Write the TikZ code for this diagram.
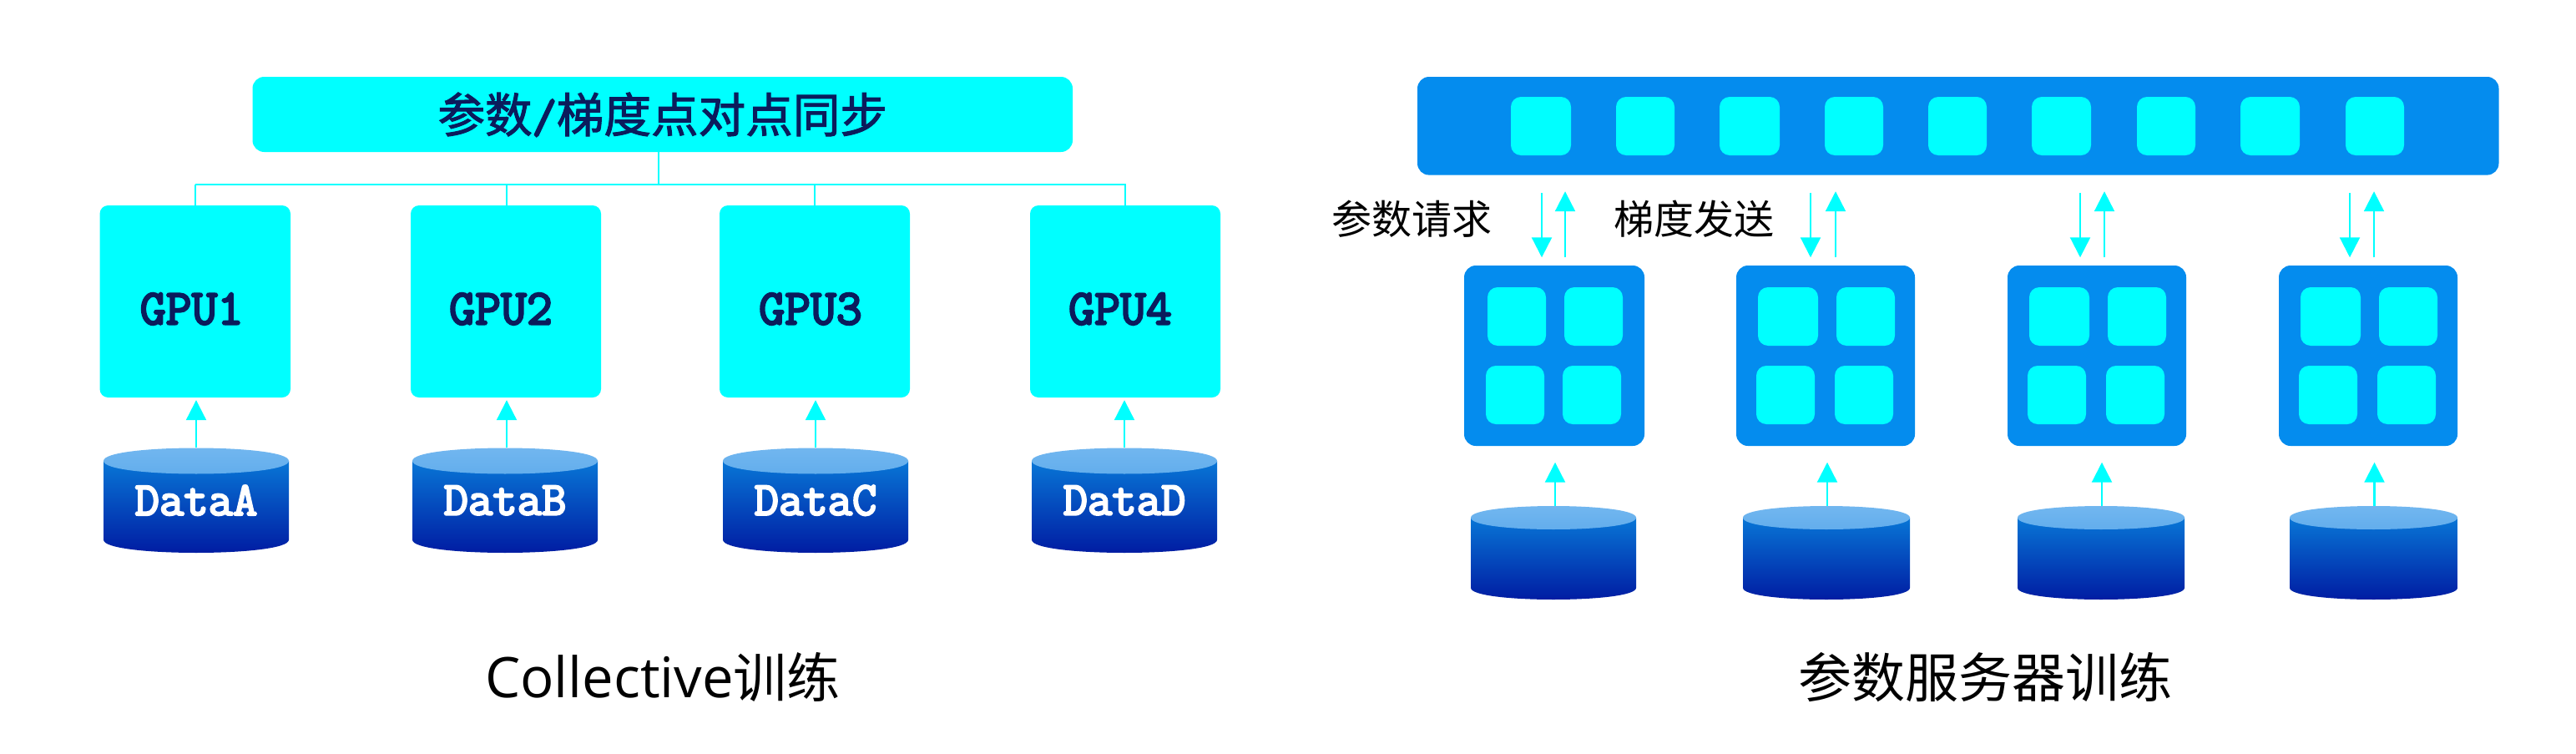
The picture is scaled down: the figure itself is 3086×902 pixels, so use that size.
\documentclass[tikz,border=0pt]{standalone}
\usepackage{fontspec}
\newfontfamily\cjk{Noto Sans CJK SC}
\newfontfamily\cjkheavy[FakeBold=1.8]{Noto Sans CJK SC}
\newfontfamily\capfont{Open Sans}
\newfontfamily\monoheavy[FakeBold=4]{Latin Modern Mono}
\usetikzlibrary{arrows.meta}
\definecolor{cyanbox}{RGB}{0,255,255}
\definecolor{bluebox}{RGB}{4,140,238}
\definecolor{navytxt}{RGB}{11,28,92}
\definecolor{cylhi}{RGB}{8,118,214}
\definecolor{cyllo}{RGB}{0,24,160}
\definecolor{captop}{RGB}{116,184,240}
\definecolor{capbot}{RGB}{96,172,236}
\tikzset{
  x=1pt,y=-1pt,
  cyanrect/.style={fill=cyanbox,rounded corners=10pt},
  bluerect/.style={fill=bluebox,rounded corners=14pt},
  chip/.style={fill=cyanbox,rounded corners=12pt},
  wire/.style={draw=cyanbox,line width=2.2pt},
  flow/.style={wire,-{Triangle[length=24pt,width=24pt]}},
  gputxt/.style={text=navytxt,font=\monoheavy\fontsize{60}{62}\selectfont},
  datatxt/.style={text=white,font=\monoheavy\fontsize{57}{60}\selectfont},
  cnlabel/.style={text=black,font=\cjk\fontsize{48}{52}\selectfont},
  captxt/.style={text=black,font=\capfont\fontsize{67}{70}\selectfont},
}
% name, x1, y1, x2, y2, style, text
\newcommand{\bx}[7]{%
  \path[#6] (#2,#3) rectangle (#4,#5);
  \path (#2,#3) -- (#4,#5) coordinate[pos=.5] (#1c);
  \node[inner sep=0pt,minimum width={(#4-#2)*1pt},minimum height={(#5-#3)*1pt},#6,fill=none] (#1) at (#1c) {#7};}
% name, x1, ytop, x2, ybot, ry, text
\newcommand{\cyl}[7]{%
  \shade[top color=cylhi,bottom color=cyllo]
    (#2,#3+#6) -- (#2,#5-#6) .. controls (#2,#5+#6*.333) and (#4,#5+#6*.333) .. (#4,#5-#6)
    -- (#4,#3+#6) -- cycle;
  \shade[top color=captop,bottom color=capbot]
    (#2,#3+#6) .. controls (#2,#3-#6*.333) and (#4,#3-#6*.333) .. (#4,#3+#6)
    .. controls (#4,#3+#6*2.333) and (#2,#3+#6*2.333) .. (#2,#3+#6) -- cycle;
  \path (#2,#3) -- (#4,#5) coordinate[pos=.5] (#1c);
  \node[inner sep=0pt,minimum width={(#4-#2)*1pt},minimum height={(#5-#3)*1pt},datatxt] (#1) at (#1c) {\raisebox{-8pt}{#7}};}
\begin{document}
\begin{tikzpicture}
\useasboundingbox (0,0) rectangle (3086,902);
\fill[white] (0,0) rectangle (3086,902);
% left: sync bar
\bx{sync}{302.5}{92}{1285}{182}{cyanrect,rounded corners=14pt}{\cjkheavy\fontsize{56.6}{60}\selectfont\textcolor{navytxt}{参数{\monoheavy /}梯度点对点同步}}
\bx{gpuA}{119.5}{246}{348}{476}{cyanrect}{}
\bx{gpuB}{492}{246}{720}{476}{cyanrect}{}
\bx{gpuC}{862}{246}{1090}{476}{cyanrect}{}
\bx{gpuD}{1234}{246}{1462}{476}{cyanrect}{}
\node[gputxt] (gpuAt) at (229.6,370) {GPU1};
\node[gputxt] (gpuBt) at (600,370) {GPU2};
\node[gputxt] (gpuCt) at (971,370) {GPU3};
\node[gputxt] (gpuDt) at (1342,370) {GPU4};
\cyl{dataA}{124}{536.5}{346}{662}{15.5}{DataA}
\cyl{dataB}{494}{536.5}{716}{662}{15.5}{DataB}
\cyl{dataC}{866}{536.5}{1088}{662}{15.5}{DataC}
\cyl{dataD}{1236}{536.5}{1458}{662}{15.5}{DataD}
\coordinate (busW) at (234,220.6);
\coordinate (busE) at (1349,220.6);
\coordinate (busT) at (789,220.6);
\coordinate (dropB) at (607,0);
\draw[wire] (busW) -- (busE);
\draw[wire] (sync.south -| busT) -- (busT);
\draw[wire] (gpuA.north) -- (gpuA.north |- busW);
\draw[wire] (gpuB.north -| dropB) -- (dropB |- busW);
\draw[wire] (gpuC.north) -- (gpuC.north |- busW);
\draw[wire] (gpuD.north) -- (gpuD.north |- busW);
\draw[flow,shorten >=3pt] (dataA.north) -- (dataA.north |- gpuA.south);
\draw[flow,shorten >=3pt] (dataB.north -| dropB) -- (dropB |- gpuB.south);
\draw[flow,shorten >=3pt] (dataC.north) -- (dataC.north |- gpuC.south);
\draw[flow,shorten >=3pt] (dataD.north) -- (dataD.north |- gpuD.south);
% right: parameter server bar
\bx{ps}{1698}{92}{2993.5}{209.6}{bluerect}{}
\bx{psa}{1810}{116}{1882}{186}{chip}{}
\bx{psb}{1936}{116}{2006}{186}{chip}{}
\bx{psc}{2060}{116}{2132}{186}{chip}{}
\bx{psd}{2186}{116}{2256}{186}{chip}{}
\bx{pse}{2310}{116}{2380}{186}{chip}{}
\bx{psf}{2434}{116}{2505}{186}{chip}{}
\bx{psg}{2560}{116}{2630}{186}{chip}{}
\bx{psh}{2684}{116}{2755}{186}{chip}{}
\bx{psi}{2810}{116}{2880}{186}{chip}{}
% workers
\bx{w1}{1754}{318}{1970}{534}{bluerect}{}
\bx{w1a}{1782}{344}{1852}{414}{chip}{}
\bx{w1b}{1874}{344}{1944}{414}{chip}{}
\bx{w1c}{1780}{438}{1850}{508}{chip}{}
\bx{w1d}{1872}{438}{1942}{508}{chip}{}
\bx{w2}{2080}{318}{2294}{534}{bluerect}{}
\bx{w2a}{2106}{344}{2178}{414}{chip}{}
\bx{w2b}{2200}{344}{2270}{414}{chip}{}
\bx{w2c}{2104}{438}{2174}{508}{chip}{}
\bx{w2d}{2198}{438}{2268}{508}{chip}{}
\bx{w3}{2405}{318}{2619}{534}{bluerect}{}
\bx{w3a}{2431}{344}{2503}{414}{chip}{}
\bx{w3b}{2525}{344}{2595}{414}{chip}{}
\bx{w3c}{2429}{438}{2499}{508}{chip}{}
\bx{w3d}{2523}{438}{2593}{508}{chip}{}
\bx{w4}{2730}{318}{2944}{534}{bluerect}{}
\bx{w4a}{2756}{344}{2828}{414}{chip}{}
\bx{w4b}{2850}{344}{2920}{414}{chip}{}
\bx{w4c}{2754}{438}{2824}{508}{chip}{}
\bx{w4d}{2848}{438}{2918}{508}{chip}{}
% disks
\cyl{d1}{1762}{606}{1960}{718}{14}{}
\cyl{d2}{2088}{606}{2288}{718}{14}{}
\cyl{d3}{2417}{606}{2617}{718}{14}{}
\cyl{d4}{2743}{606}{2944}{718}{14}{}
\draw[flow,shorten >=19.5pt] ([xshift=2pt]d1.north) -- ([xshift=2pt]d1.north |- w1.south);
\draw[flow,shorten >=19.5pt] ([xshift=1pt]d2.north) -- ([xshift=1pt]d2.north |- w2.south);
\draw[flow,shorten >=19.5pt] ([xshift=1pt]d3.north) -- ([xshift=1pt]d3.north |- w3.south);
\draw[flow,shorten >=19.5pt] ([xshift=1pt]d4.north) -- ([xshift=1pt]d4.north |- w4.south);
% request / send arrows
\coordinate (r1) at (1847,0); \coordinate (s1) at (1875,0);
\coordinate (r2) at (2169,0); \coordinate (s2) at (2199,0);
\coordinate (r3) at (2492,0); \coordinate (s3) at (2521,0);
\coordinate (r4) at (2815,0); \coordinate (s4) at (2844,0);
\draw[flow,shorten <=21.4pt,shorten >=9.5pt] (ps.south -| r1) -- (w1.north -| r1);
\draw[flow,shorten <=9.5pt,shorten >=19.4pt] (w1.north -| s1) -- (ps.south -| s1);
\draw[flow,shorten <=21.4pt,shorten >=9.5pt] (ps.south -| r2) -- (w2.north -| r2);
\draw[flow,shorten <=9.5pt,shorten >=19.4pt] (w2.north -| s2) -- (ps.south -| s2);
\draw[flow,shorten <=21.4pt,shorten >=9.5pt] (ps.south -| r3) -- (w3.north -| r3);
\draw[flow,shorten <=9.5pt,shorten >=19.4pt] (w3.north -| s3) -- (ps.south -| s3);
\draw[flow,shorten <=21.4pt,shorten >=9.5pt] (ps.south -| r4) -- (w4.north -| r4);
\draw[flow,shorten <=9.5pt,shorten >=19.4pt] (w4.north -| s4) -- (ps.south -| s4);
% labels
\node[cnlabel] (lreq) at (1691,262) {参数请求};
\node[cnlabel] (lgrad) at (2029,262) {梯度发送};
\node[captxt] (capL) at (794,811) {Collective{\cjk\fontsize{64}{70}\selectfont 训练}};
\node[captxt] (capR) at (2378,811) {\cjk\fontsize{64}{70}\selectfont 参数服务器训练};
\end{tikzpicture}
\end{document}
